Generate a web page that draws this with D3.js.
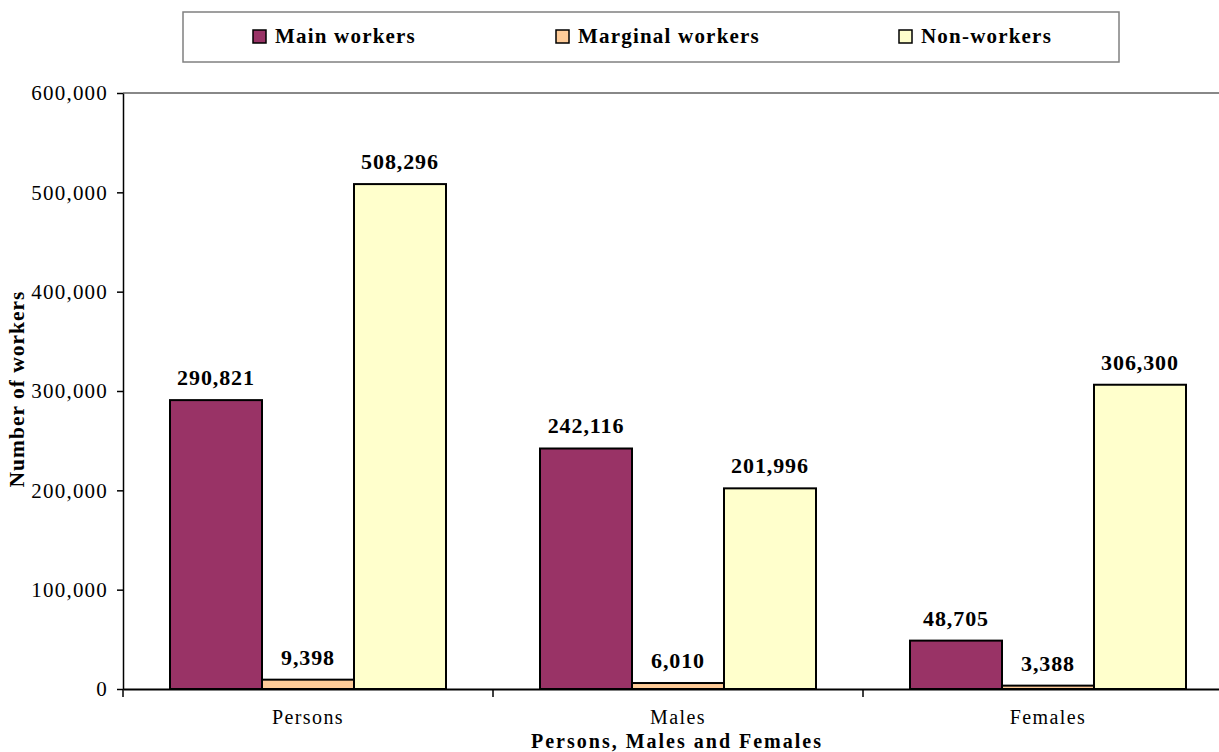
<!DOCTYPE html>
<html>
<head>
<meta charset="utf-8">
<script src="https://d3js.org/d3.v7.min.js"></script>
<style>
  body { margin: 0; background: #fff; }
  svg text { font-family: "Liberation Serif", "Times New Roman", serif; fill: #000; }
</style>
</head>
<body>
<div id="chart_area"></div>
<script>
// data
var categories = ["Persons", "Males", "Females"];
var seriesNames = ["Main workers", "Marginal workers", "Non-workers"];
var mainWorkers = [290821, 242116, 48705];
var marginalWorkers = [9398, 6010, 3388];
var nonWorkers = [508296, 201996, 306300];
var yTicks = [0, 100000, 200000, 300000, 400000, 500000, 600000];

var colors = {"Main workers": "#993366", "Marginal workers": "#FFCC99", "Non-workers": "#FFFFCC"};

var W = 1219, H = 752;
var plotLeft = 123, plotTop = 93, plotBottom = 689;

var svg = d3.select("#chart_area").append("svg")
    .attr("width", W).attr("height", H);

var x = d3.scaleBand().domain(categories).range([plotLeft, plotLeft + 370 * 3]);
var xs = d3.scaleBand().domain(seriesNames).range([47, 323]);
var y = d3.scaleLinear().domain([0, 600000]).range([plotBottom, plotTop]);

var rows = [];
categories.forEach(function(c, i) {
  rows.push({cat: c, s: "Main workers", v: mainWorkers[i]});
  rows.push({cat: c, s: "Marginal workers", v: marginalWorkers[i]});
  rows.push({cat: c, s: "Non-workers", v: nonWorkers[i]});
});

var fmt = d3.format(",");

// top border of plot
svg.append("line")
  .attr("x1", plotLeft).attr("x2", W).attr("y1", plotTop).attr("y2", plotTop)
  .attr("stroke", "#888").attr("stroke-width", 2);

// bars
svg.append("g").selectAll("rect")
  .data(rows).enter().append("rect")
  .attr("x", d => x(d.cat) + xs(d.s))
  .attr("width", xs.bandwidth())
  .attr("y", d => y(d.v))
  .attr("height", d => y(0) - y(d.v))
  .attr("fill", d => colors[d.s])
  .attr("stroke", "#000")
  .attr("stroke-width", 2);

// value labels
svg.append("g").selectAll("text")
  .data(rows).enter().append("text")
  .attr("x", d => x(d.cat) + xs(d.s) + xs.bandwidth() / 2)
  .attr("y", d => y(d.v) - 15)
  .attr("text-anchor", "middle")
  .style("font-size", "22px").style("font-weight", "bold")
  .style("letter-spacing", "0.9px")
  .text(d => fmt(d.v));

// y axis
var yAxis = svg.append("g")
  .attr("transform", "translate(" + plotLeft + ",0)")
  .call(d3.axisLeft(y).tickValues(yTicks).tickFormat(fmt).tickSize(6).tickSizeOuter(0));
yAxis.select(".domain").attr("stroke", "#000").attr("stroke-width", 1.5);
yAxis.selectAll(".tick line").attr("stroke", "#000").attr("stroke-width", 1.5);
yAxis.selectAll(".tick text")
  .attr("x", -15)
  .style("font-size", "21px").style("letter-spacing", "1.2px")
  .style("font-family", "Liberation Serif, serif");

// x axis
var xAxis = svg.append("g")
  .attr("transform", "translate(0," + plotBottom + ")")
  .call(d3.axisBottom(x).tickSize(0).tickSizeOuter(0));
xAxis.select(".domain").attr("stroke", "#000").attr("stroke-width", 2);
xAxis.selectAll(".tick text")
  .attr("y", 35).attr("dy", null)
  .style("font-size", "20px").style("letter-spacing", "1.4px")
  .style("font-family", "Liberation Serif, serif");
// boundary ticks between categories
svg.append("g").selectAll("line")
  .data(categories).enter().append("line")
  .attr("x1", d => x(d)).attr("x2", d => x(d))
  .attr("y1", plotBottom).attr("y2", plotBottom + 8)
  .attr("stroke", "#000").attr("stroke-width", 1.5);

// axis titles
svg.append("text")
  .attr("transform", "translate(24," + 389 + ") rotate(-90)")
  .attr("text-anchor", "middle")
  .style("font-size", "21.5px").style("font-weight", "bold")
  .style("letter-spacing", "1px")
  .text("Number of workers");

svg.append("text")
  .attr("x", 677).attr("y", 748)
  .attr("text-anchor", "middle")
  .style("font-size", "20px").style("font-weight", "bold")
  .style("letter-spacing", "2px")
  .text("Persons, Males and Females");

// legend
svg.append("rect")
  .attr("x", 183).attr("y", 12).attr("width", 936).attr("height", 50)
  .attr("fill", "#fff").attr("stroke", "#808080").attr("stroke-width", 1.5);

var legendX = [253, 556, 899];
var lg = svg.append("g").selectAll("g")
  .data(seriesNames).enter().append("g")
  .attr("transform", (d, i) => "translate(" + legendX[i] + ",30)");
lg.append("rect")
  .attr("width", 13).attr("height", 13)
  .attr("fill", d => colors[d]).attr("stroke", "#000").attr("stroke-width", 1.5);
lg.append("text")
  .attr("x", 22).attr("y", 13)
  .style("font-size", "21px").style("font-weight", "bold")
  .style("letter-spacing", "1.2px")
  .text(d => d);
</script>
</body>
</html>
